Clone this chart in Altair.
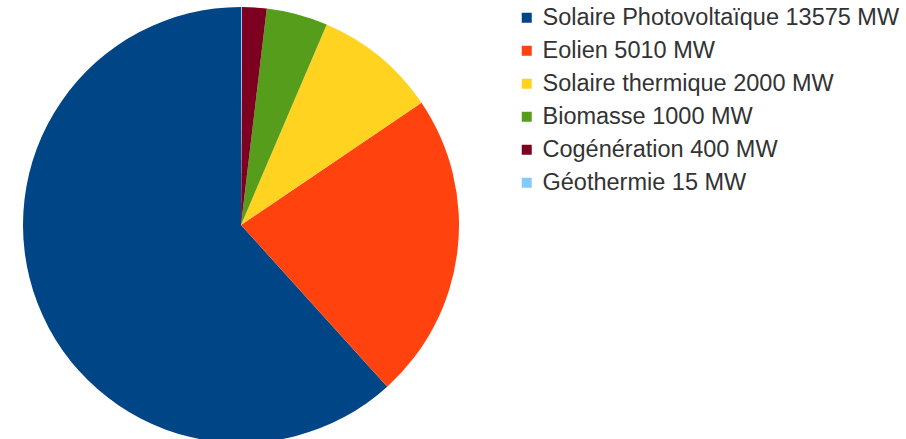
import altair as alt
import pandas as pd

# Installed renewable capacity by source (MW)
sources = ["Solaire Photovoltaïque", "Eolien", "Solaire thermique",
           "Biomasse", "Cogénération", "Géothermie"]
capacity_mw = [13575, 5010, 2000, 1000, 400, 15]
colors = ["#004586", "#ff420e", "#ffd320", "#579d1c", "#7e0021", "#83caff"]

labels = [f"{s} {v} MW" for s, v in zip(sources, capacity_mw)]
df = pd.DataFrame({
    "label": labels,
    "mw": capacity_mw,
    # slices run counter-clockwise from the top in legend order
    "rank": list(range(len(labels)))[::-1],
})

chart = (
    alt.Chart(df)
    .mark_arc(outerRadius=218)
    .encode(
        theta=alt.Theta("mw:Q", stack=True),
        order=alt.Order("rank:Q"),
        x=alt.value(241),
        y=alt.value(225),
        color=alt.Color(
            "label:N",
            sort=labels,
            scale=alt.Scale(domain=labels, range=colors),
            legend=alt.Legend(
                title=None,
                orient="none",
                legendX=515,
                legendY=6,
                symbolType="square",
                symbolSize=100,
                symbolStrokeWidth=0,
                labelFont="Liberation Sans",
                labelFontSize=23.5,
                labelColor="#333333",
                labelOffset=4,
                labelLimit=500,
                rowPadding=8,
            ),
        ),
    )
    .properties(width=906, height=439, autosize=alt.AutoSizeParams(type="none"), padding=0)
    .configure_view(stroke=None)
)

chart.save("out.html", embed_options={"renderer": "svg", "actions": False})
